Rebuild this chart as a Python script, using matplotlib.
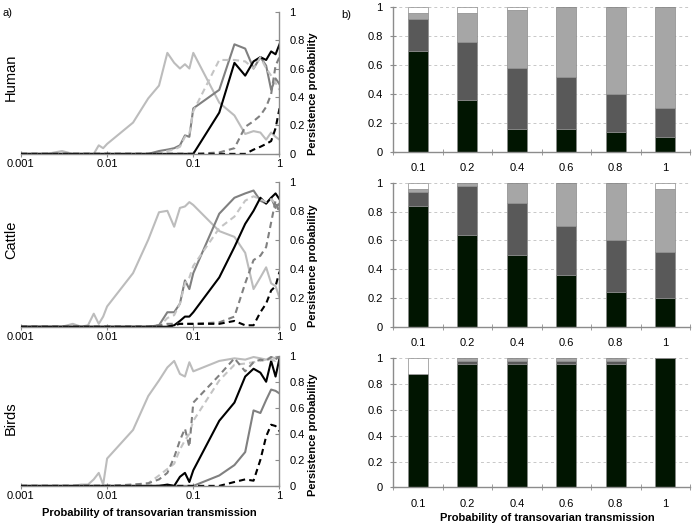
import numpy as np
import matplotlib
matplotlib.use("Agg")
import matplotlib.pyplot as plt
from matplotlib.ticker import FixedLocator, NullFormatter

plt.rcParams["font.family"] = "Liberation Sans"
plt.rcParams["font.size"] = 8

# ---- a) persistence vs probability of transovarian transmission ----
p_trans = [0.001, 0.002, 0.003, 0.004, 0.005, 0.006, 0.007, 0.008, 0.009,
           0.01, 0.02, 0.03, 0.04, 0.05, 0.06, 0.07, 0.08, 0.09,
           0.1, 0.2, 0.3, 0.4, 0.5, 0.6, 0.7, 0.8, 0.9, 1.0]

human_light = [0, 0, 0.02, 0, 0, 0, 0, 0.06, 0.04, 0.07, 0.22, 0.39, 0.48, 0.71,
               0.64, 0.60, 0.63, 0.60, 0.71, 0.36, 0.27, 0.14, 0.16, 0.15, 0.10, 0.15, 0.12, 0.10]
human_mid = [0, 0, 0, 0, 0, 0, 0, 0, 0, 0, 0, 0, 0.02, 0.03,
             0.04, 0.06, 0.13, 0.12, 0.32, 0.45, 0.77, 0.74, 0.60, 0.68, 0.62, 0.45, 0.53, 0.49]
human_black = [0, 0, 0, 0, 0, 0, 0, 0, 0, 0, 0, 0, 0, 0,
               0, 0, 0, 0, 0, 0.29, 0.64, 0.55, 0.65, 0.68, 0.66, 0.72, 0.70, 0.77]
human_light_d = [0, 0, 0, 0, 0, 0, 0, 0, 0, 0, 0, 0, 0, 0.02,
                 0.03, 0.05, 0.12, 0.14, 0.30, 0.66, 0.66, 0.65, 0.60, 0.68, 0.60, 0.55, 0.50, 0.45]
human_mid_d = [0, 0, 0, 0, 0, 0, 0, 0, 0, 0, 0, 0, 0, 0,
               0, 0, 0, 0, 0, 0.01, 0.04, 0.19, 0.23, 0.27, 0.33, 0.42, 0.62, 0.68]
human_black_d = [0, 0, 0, 0, 0, 0, 0, 0, 0, 0, 0, 0, 0, 0,
                 0, 0, 0, 0, 0, 0, 0, 0, 0.03, 0.05, 0.07, 0.09, 0.18, 0.32]

cattle_light = [0, 0, 0, 0.02, 0, 0.01, 0.09, 0.02, 0.07, 0.14, 0.37, 0.60, 0.79, 0.80,
                0.69, 0.82, 0.83, 0.86, 0.84, 0.66, 0.62, 0.51, 0.26, 0.34, 0.41, 0.30, 0.28, 0.20]
cattle_mid = [0, 0, 0, 0, 0, 0, 0, 0, 0, 0, 0, 0, 0.01, 0.10,
              0.10, 0.16, 0.32, 0.26, 0.37, 0.78, 0.89, 0.92, 0.94, 0.87, 0.85, 0.89, 0.82, 0.85]
cattle_black = [0, 0, 0, 0, 0, 0, 0, 0, 0, 0, 0, 0, 0, 0,
                0.01, 0.04, 0.07, 0.07, 0.10, 0.34, 0.55, 0.71, 0.80, 0.89, 0.85, 0.89, 0.92, 0.88]
cattle_light_d = [0, 0, 0, 0, 0, 0, 0, 0, 0, 0, 0, 0, 0, 0.06,
                  0.08, 0.16, 0.30, 0.34, 0.42, 0.68, 0.76, 0.87, 0.90, 0.88, 0.86, 0.88, 0.85, 0.80]
cattle_mid_d = [0, 0, 0, 0, 0, 0, 0, 0, 0, 0, 0, 0, 0.01, 0.02,
                0.02, 0.02, 0.02, 0.02, 0.02, 0.03, 0.07, 0.30, 0.46, 0.49, 0.55, 0.72, 0.87, 0.78]
cattle_black_d = [0, 0, 0, 0, 0, 0, 0, 0, 0, 0, 0, 0, 0, 0,
                  0.01, 0.02, 0.02, 0.02, 0.02, 0.02, 0.04, 0.01, 0.01, 0.10, 0.16, 0.25, 0.28, 0.38]

birds_light = [0, 0, 0, 0, 0.01, 0.01, 0.05, 0.10, 0.01, 0.21, 0.43, 0.69, 0.81, 0.91,
               0.96, 0.86, 0.84, 0.95, 0.88, 0.96, 0.98, 0.97, 0.99, 0.98, 0.97, 0.99, 0.98, 1.0]
birds_mid = [0, 0, 0, 0, 0, 0, 0, 0, 0, 0, 0, 0, 0, 0,
             0, 0, 0, 0, 0, 0.08, 0.16, 0.26, 0.58, 0.56, 0.66, 0.74, 0.73, 0.71]
birds_black = [0, 0, 0, 0, 0, 0, 0, 0, 0, 0, 0, 0, 0, 0.01,
               0, 0.07, 0.10, 0.03, 0.12, 0.50, 0.64, 0.84, 0.90, 0.87, 0.80, 0.96, 0.84, 0.98]
birds_light_d = [0, 0, 0, 0, 0, 0, 0, 0, 0, 0, 0.01, 0.02, 0.08, 0.13,
                 0.17, 0.28, 0.35, 0.40, 0.50, 0.81, 0.93, 0.94, 0.95, 0.96, 0.97, 0.97, 0.96, 0.99]
birds_mid_d = [0, 0, 0, 0, 0, 0, 0, 0, 0, 0, 0.01, 0.02, 0.05, 0.10,
               0.22, 0.35, 0.44, 0.30, 0.64, 0.85, 0.98, 0.88, 0.95, 0.97, 0.96, 0.99, 0.97, 1.0]
birds_black_d = [0, 0, 0, 0, 0, 0, 0, 0, 0, 0, 0, 0, 0, 0,
                 0, 0, 0, 0, 0, 0, 0.03, 0.05, 0.04, 0.20, 0.38, 0.47, 0.46, 0.42]

# ---- b) stacked bars ----
bar_cats = ["0.1", "0.2", "0.4", "0.6", "0.8", "1"]
human_bars = [[0.70, 0.36, 0.16, 0.16, 0.14, 0.10],
              [0.22, 0.40, 0.42, 0.36, 0.26, 0.20],
              [0.04, 0.20, 0.40, 0.48, 0.60, 0.70],
              [0.04, 0.04, 0.02, 0.0, 0.0, 0.0]]
cattle_bars = [[0.84, 0.64, 0.50, 0.36, 0.24, 0.20],
               [0.10, 0.34, 0.36, 0.34, 0.36, 0.32],
               [0.02, 0.02, 0.14, 0.30, 0.40, 0.44],
               [0.04, 0.0, 0.0, 0.0, 0.0, 0.04]]
birds_bars = [[0.88, 0.96, 0.96, 0.96, 0.96, 1.0],
              [0.0, 0.02, 0.02, 0.02, 0.02, 0.0],
              [0.0, 0.02, 0.02, 0.02, 0.02, 0.0],
              [0.12, 0.0, 0.0, 0.0, 0.0, 0.0]]

species = ["Human", "Cattle", "Birds"]
line_data = [
    [human_light, human_mid, human_black, human_light_d, human_mid_d, human_black_d],
    [cattle_light, cattle_mid, cattle_black, cattle_light_d, cattle_mid_d, cattle_black_d],
    [birds_light, birds_mid, birds_black, birds_light_d, birds_mid_d, birds_black_d],
]
bar_data = [human_bars, cattle_bars, birds_bars]

line_styles = [("#bcbcbc", "-"), ("#808080", "-"), ("#000000", "-"),
               ("#c4c4c4", "--"), ("#808080", "--"), ("#000000", "--")]
bar_colors = ["#011501", "#595959", "#a6a6a6", "#ffffff"]
spine_col = "#8c8c8c"

# axes positions (fig fractions)
left_pos = [[0.030, 0.708, 0.371, 0.270],
            [0.030, 0.380, 0.371, 0.275],
            [0.030, 0.078, 0.371, 0.247]]
right_pos = [[0.564, 0.712, 0.426, 0.274],
             [0.564, 0.380, 0.426, 0.273],
             [0.564, 0.075, 0.426, 0.245]]
row_label_y = [0.854, 0.545, 0.207]
pp_label_y = [0.823, 0.496, 0.175]

fig = plt.figure(figsize=(6.97, 5.27), dpi=100)

for i in range(3):
    ax = fig.add_axes(left_pos[i])
    for ys, (c, ls) in zip(line_data[i], line_styles):
        if ls == "--":
            ax.plot(p_trans, ys, color=c, lw=1.5, dashes=(3, 2))
        else:
            ax.plot(p_trans, ys, color=c, lw=1.5)
    ax.set_xscale("log")
    ax.set_xlim(0.001, 1)
    ax.set_ylim(0, 1)
    ax.xaxis.set_major_locator(FixedLocator([0.001, 0.01, 0.1, 1]))
    ax.set_xticklabels(["0.001", "0.01", "0.1", "1"])
    ax.xaxis.set_minor_locator(FixedLocator([]))
    ax.xaxis.set_minor_formatter(NullFormatter())
    ax.yaxis.tick_right()
    ax.set_yticks([0, 0.2, 0.4, 0.6, 0.8, 1])
    ax.set_yticklabels(["0", "0.2", "0.4", "0.6", "0.8", "1"])
    for s in ["top", "left"]:
        ax.spines[s].set_visible(False)
    for s in ["bottom", "right"]:
        ax.spines[s].set_color(spine_col)
        ax.spines[s].set_linewidth(1.0)
    ax.tick_params(axis="x", direction="inout", length=4, color=spine_col, pad=2)
    ax.tick_params(axis="y", direction="in", length=3, color=spine_col, pad=7)
    ax.patch.set_visible(False)
    fig.text(0.016, row_label_y[i], species[i], rotation=90, fontsize=10.5,
             ha="center", va="center")
    fig.text(0.449, pp_label_y[i], "Persistence probability", rotation=90,
             fontsize=8, fontweight="bold", ha="center", va="center")

    bx = fig.add_axes(right_pos[i])
    pos = np.arange(len(bar_cats))
    bottom = np.zeros(len(bar_cats))
    for seg, col in zip(bar_data[i], bar_colors):
        bx.bar(pos, seg, width=0.41, bottom=bottom, color=col,
               edgecolor="#8a8a8a", linewidth=0.5, zorder=3)
        bottom = bottom + np.array(seg)
    bx.set_xlim(-0.5, 5.5)
    bx.set_ylim(0, 1)
    bx.set_xticks(pos)
    bx.set_xticklabels(bar_cats)
    bx.set_xticks(np.arange(-0.5, 6.0, 1.0), minor=True)
    bx.tick_params(axis="x", which="major", length=0, pad=8)
    bx.tick_params(axis="x", which="minor", direction="inout", length=5, color=spine_col)
    bx.set_yticks([0, 0.2, 0.4, 0.6, 0.8, 1])
    bx.set_yticklabels(["0", "0.2", "0.4", "0.6", "0.8", "1"])
    bx.tick_params(axis="y", direction="inout", length=5, color=spine_col, pad=5)
    bx.yaxis.grid(True, linestyle=(0, (3, 3)), color="#c8c8c8", lw=0.7, zorder=0)
    for s in ["top", "right"]:
        bx.spines[s].set_visible(False)
    for s in ["bottom", "left"]:
        bx.spines[s].set_color(spine_col)
        bx.spines[s].set_linewidth(1.0)
    bx.spines["bottom"].set_zorder(4)

fig.text(0.214, 0.027, "Probability of transovarian transmission",
         fontsize=8, fontweight="bold", ha="center", va="center")
fig.text(0.785, 0.017, "Probability of transovarian transmission",
         fontsize=8, fontweight="bold", ha="center", va="center")
fig.text(0.004, 0.975, "a)", fontsize=8, ha="left", va="center")
fig.text(0.490, 0.972, "b)", fontsize=8, ha="left", va="center")

fig.savefig("out.png", dpi=100)
